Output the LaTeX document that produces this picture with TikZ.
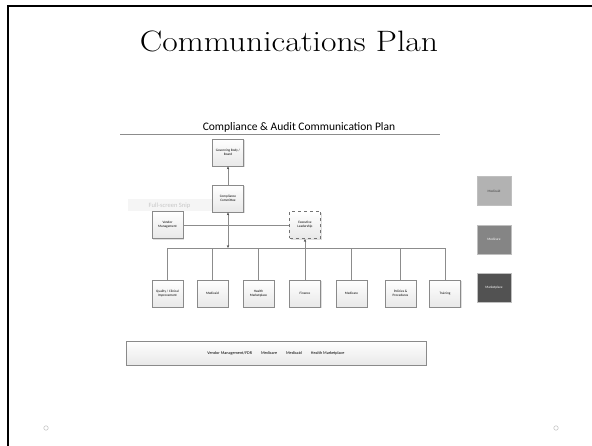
\documentclass[tikz,border=0pt]{standalone}
\usepackage{fontspec}
\newfontfamily\carl{Carlito}
\usetikzlibrary{arrows.meta,shadows}
\definecolor{boxline}{HTML}{8A8A8A}
\definecolor{conn}{HTML}{8C8C8C}
\tikzset{
  orgbox/.style={draw=boxline, line width=0.7pt, top color=white, bottom color=black!9,
    minimum width=31pt, minimum height=27pt, inner sep=0.5pt, align=center,
    font=\carl\fontsize{3.4}{4}\selectfont,
    drop shadow={opacity=0.25, shadow xshift=1.2pt, shadow yshift=-1.2pt}},
  legendbox/.style={draw=black!25, line width=0.4pt, minimum width=34pt, minimum height=29pt,
    inner sep=0pt, font=\carl\fontsize{3.4}{4}\selectfont},
  conline/.style={draw=conn, line width=0.8pt},
  tipline/.style={conline, arrows={-Stealth[length=3pt,width=2.4pt,black!70]}},
}
\begin{document}
\begin{tikzpicture}[x=1pt,y=-1pt]
\useasboundingbox (0,0) rectangle (592,446);
\fill[white] (0,0) rectangle (592,446);
% slide frame
\draw[line width=2.4pt, line cap=rect] (8,446) -- (8,6) -- (592,6);
\node[anchor=base, font=\fontsize{29.5}{32}\selectfont] (title) at (289,52) {\scalebox{1.14}[1]{Communications Plan}};
\node[draw=black!30, line width=0.4pt, circle, inner sep=0pt, minimum size=4.5pt] (c1) at (46,428) {};
\node[draw=black!30, line width=0.4pt, circle, inner sep=0pt, minimum size=4.5pt] (c2) at (556,428) {};

% sub diagram title
\node[font=\carl\fontsize{11.5}{13}\selectfont, inner sep=0pt] (sub) at (299,127) {Compliance \& Audit Communication Plan};
\coordinate (rl) at (120,134.5);
\coordinate (rr) at (440,134.5);
\draw[draw=black!45, line width=0.8pt] (rl) -- (rr);

% snip label
\node[fill=black!4, minimum width=84pt, minimum height=12pt, inner sep=0pt,
  font=\carl\fontsize{6.5}{7}\selectfont, text=black!22] (snip) at (169.5,205.5) {Full-screen Snip};

% org boxes
\node[orgbox] (gov) at (228,152.5) {Governing Body /\\Board};
\node[orgbox] (comp) at (228,198.5) {Compliance\\Committee};
\node[orgbox] (vend) at (167.5,225) {Vendor\\Management};
\node[orgbox, dashed, line width=1pt, draw=black!55] (exec) at (305,225) {Executive\\Leadership};

\node[orgbox] (q) at (167.5,293.5) {Quality / Clinical\\Improvement};
\node[orgbox] (mcd) at (212.5,293.5) {Medicaid};
\node[orgbox] (hm) at (258.5,293.5) {Health\\Marketplace};
\node[orgbox] (fin) at (305,293.5) {Finance};
\node[orgbox] (mcr) at (351.5,293.5) {Medicare};
\node[orgbox] (pol) at (400.5,293.5) {Policies \&\\Procedures};
\node[orgbox] (tr) at (445,293.5) {Training};

% connectors
\coordinate (busL) at (167.5,248);
\coordinate (busR) at (445,248);
\draw[conline] (busL) -- (busR);
\foreach \n in {q,mcd,hm,mcr,pol,tr} { \draw[conline] (\n.north) -- (\n.north |- busL); }
\draw[tipline] (fin.north) -- (exec.south);
\draw[conline, arrows={Stealth[length=3pt,width=2.4pt,black!70]-Stealth[length=3pt,width=2.4pt,black!70]}] (comp.south) -- (comp.south |- busL);
\draw[tipline] (comp.north) -- (gov.south);
\draw[conline] (vend.east) -- (exec.west);

% bottom wide box
\node[orgbox, minimum width=300pt, minimum height=24pt, font=\carl\fontsize{4.2}{5}\selectfont] (wide) at (276,353)
  {Vendor Management/FDR\hspace{9pt}Medicare\hspace{9pt}Medicaid\hspace{9pt}Health Marketplace};

% legend boxes
\node[legendbox, fill=black!30, text=black!75] (lg1) at (494,191) {Medicaid};
\node[legendbox, fill=black!48, text=white] (lg2) at (494,239.5) {Medicare};
\node[legendbox, fill=black!68, text=white] (lg3) at (494,287.5) {Marketplace};
\end{tikzpicture}
\end{document}
